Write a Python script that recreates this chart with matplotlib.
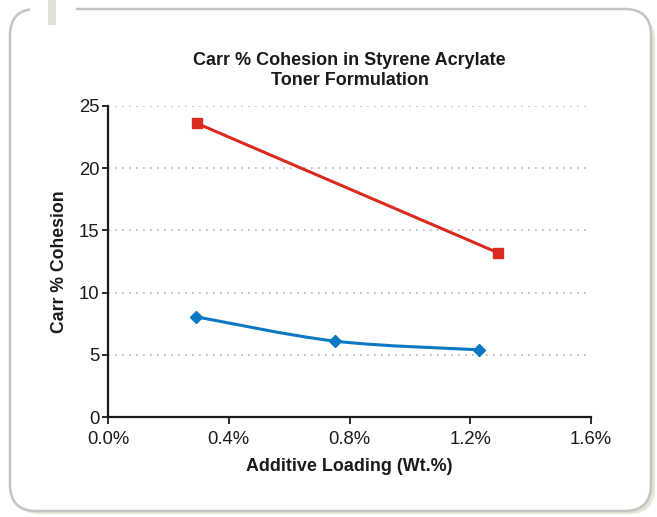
#!/usr/bin/env python3
"""Carr % cohesion vs additive loading, styrene acrylate toner."""

import matplotlib

matplotlib.use("Agg")
import matplotlib.pyplot as plt
from matplotlib.patches import FancyBboxPatch, PathPatch, Rectangle
from matplotlib.path import Path
from matplotlib.ticker import FuncFormatter

plt.rcParams["font.family"] = ["Liberation Sans", "DejaVu Sans"]

# additive loading in wt.%
red_x = [0.295, 1.292]
red_y = [23.6, 13.2]
blue_x = [0.293, 0.752, 1.230]
blue_y = [8.05, 6.1, 5.4]

x_ticks = [0.0, 0.4, 0.8, 1.2, 1.6]
y_ticks = [0, 5, 10, 15, 20, 25]

RED = "#db2a1f"
BLUE = "#0a78c2"


def smooth_path(xs, ys):
    # catmull-rom style bezier through the points (like a "smoothed line")
    pts = list(zip(xs, ys))
    verts = [pts[0]]
    codes = [Path.MOVETO]
    n = len(pts)
    for i in range(n - 1):
        p0 = pts[i - 1] if i > 0 else pts[i]
        p1 = pts[i]
        p2 = pts[i + 1]
        p3 = pts[i + 2] if i + 2 < n else pts[i + 1]
        c1 = (p1[0] + (p2[0] - p0[0]) / 6, p1[1] + (p2[1] - p0[1]) / 6)
        c2 = (p2[0] - (p3[0] - p1[0]) / 6, p2[1] - (p3[1] - p1[1]) / 6)
        verts += [c1, c2, p2]
        codes += [Path.CURVE4] * 3
    return Path(verts, codes)


fig = plt.figure(figsize=(6.57, 5.17), dpi=100)

# frame: rounded box with beige shadow and the little tab top-left
W, H = 657, 517
fig.patches.append(FancyBboxPatch(
    (13 / W, 3 / H), 642 / W, 500 / H,
    boxstyle="round,pad=0,rounding_size=0.04",
    transform=fig.transFigure, facecolor="#e7e3d5", edgecolor="none", zorder=0,
    mutation_aspect=W / H))
fig.patches.append(FancyBboxPatch(
    (10 / W, 6 / H), 641 / W, 502 / H,
    boxstyle="round,pad=0,rounding_size=0.04",
    transform=fig.transFigure, facecolor="white", edgecolor="#c4c4c4",
    linewidth=1.8, zorder=1, mutation_aspect=W / H))
fig.patches.append(Rectangle(
    (30 / W, 500 / H), 46 / W, 17 / H, transform=fig.transFigure,
    facecolor="white", edgecolor="none", zorder=2))
fig.patches.append(Rectangle(
    (48 / W, 492 / H), 8 / W, 25 / H, transform=fig.transFigure,
    facecolor="#e3e0d3", edgecolor="none", zorder=3))

ax = fig.add_axes([108 / W, 100 / H, 483 / W, 311 / H])
ax.set_zorder(10)
ax.set_facecolor("none")

ax.add_patch(PathPatch(smooth_path(blue_x, blue_y), facecolor="none",
                       edgecolor=BLUE, linewidth=2.2, zorder=3))
ax.plot(blue_x, blue_y, linestyle="none", marker="D", markersize=6,
        color=BLUE, zorder=4)
ax.plot(red_x, red_y, color=RED, linewidth=2.2, marker="s", markersize=7,
        zorder=4)

ax.set_xlim(0, 1.6)
ax.set_ylim(0, 25)
ax.set_xticks(x_ticks)
ax.set_yticks(y_ticks)
ax.xaxis.set_major_formatter(FuncFormatter(lambda v, _: f"{v:.1f}%"))

for y in y_ticks[1:]:
    ax.axhline(y, color="#b5b5b5", linewidth=1.2, linestyle=(0, (1, 3.2)),
               zorder=1)

for side in ("top", "right"):
    ax.spines[side].set_visible(False)
for side in ("left", "bottom"):
    ax.spines[side].set_linewidth(1.6)
    ax.spines[side].set_color("#1a1a1a")

ax.tick_params(axis="x", direction="out", length=5, width=1.3,
               labelsize=13.3, pad=5, colors="#1a1a1a")
ax.tick_params(axis="y", direction="out", length=4, width=1.3,
               labelsize=13.3, pad=2, colors="#1a1a1a")

ax.set_xlabel("Additive Loading (Wt.%)", fontsize=12.9, fontweight="bold",
              labelpad=7, color="#1a1a1a")
ax.set_ylabel("Carr % Cohesion", fontsize=12.7, fontweight="bold",
              labelpad=8, color="#1a1a1a")
ax.set_title("Carr % Cohesion in Styrene Acrylate\nToner Formulation",
             fontsize=13, fontweight="bold", pad=15, color="#1a1a1a",
             linespacing=1.25)

fig.savefig("out.png", dpi=100)
